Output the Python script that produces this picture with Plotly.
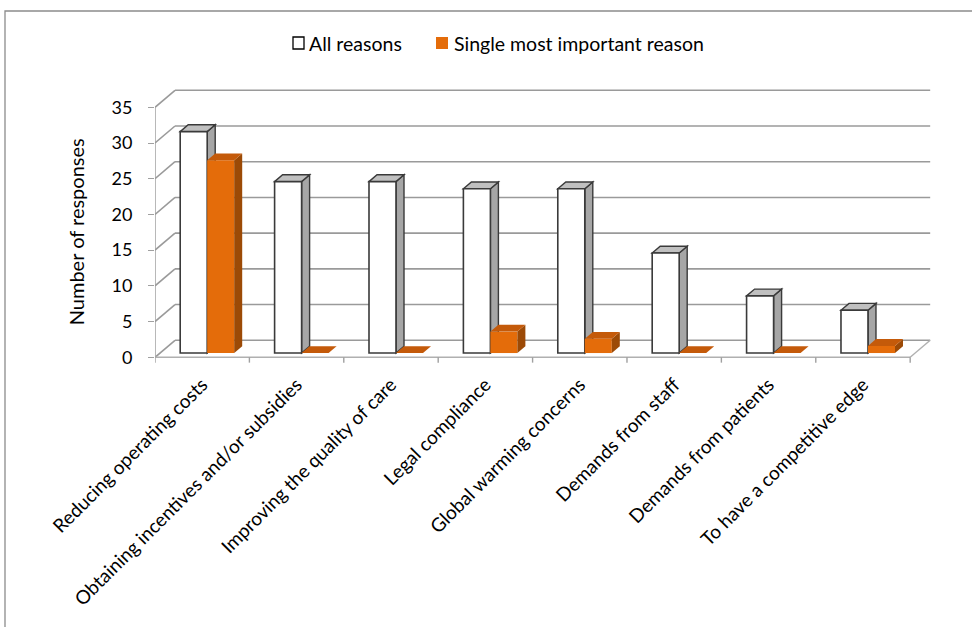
import plotly.graph_objects as go

categories = [
    "Reducing operating costs",
    "Obtaining incentives and/or subsidies",
    "Improving the quality of care",
    "Legal compliance",
    "Global warming concerns",
    "Demands from staff",
    "Demands from patients",
    "To have a competitive edge",
]
all_reasons = [31, 24, 24, 23, 23, 14, 8, 6]
single_reason = [27, 0, 0, 3, 2, 0, 0, 1]
y_ticks = [0, 5, 10, 15, 20, 25, 30, 35]
series_names = ["All reasons", "Single most important reason"]

# 3D-look geometry (in axis units)
DX, DY = 0.212, 2.38        # wall depth
F0, FD = 0.25, 0.40         # bar front depth fraction, bar depth fraction
BW = 0.286                  # bar width
bx, by = DX * F0, DY * F0   # offset of bar front plane
sdx, sdy = DX * FD, DY * FD # bar depth

FONT = "Lato, Carlito, Calibri, sans-serif"
GRID = "#9a9a9a"
EDGE = "#3a3a3a"
ORANGE = "#E46C0A"
ORANGE_SIDE = "#9C4A06"
ORANGE_TOP = "#C45A0A"

# plot area in pixels: left 155, right 935, top 85, bottom 363
L, R, T, B = 155, 935, 85, 363
def px(x):
    return (x - L) / (R - L)
def py(y):
    return (B - y) / (B - T)

n = len(categories)
xc = [i + 0.5 + bx for i in range(n)]

fig = go.Figure()
fig.add_trace(go.Bar(
    x=xc, y=all_reasons, base=[by] * n, width=BW, offset=-BW,
    name=series_names[0], marker=dict(color="white", line=dict(color=EDGE, width=1.6)),
    hoverinfo="skip", showlegend=False,
))
fig.add_trace(go.Bar(
    x=xc, y=single_reason, base=[by] * n, width=BW, offset=0,
    name=series_names[1], marker=dict(color=ORANGE, line=dict(width=0)),
    hoverinfo="skip", showlegend=False,
))

shapes = []
def line(x0, y0, x1, y1, color=GRID, w=1.6, layer="below"):
    shapes.append(dict(type="line", xref="x", yref="y", x0=x0, y0=y0, x1=x1, y1=y1,
                       line=dict(color=color, width=w), layer=layer))

def poly(pts, fill, lc=None, lw=0, layer="below"):
    p = "M " + " L ".join(f"{x},{y}" for x, y in pts) + " Z"
    shapes.append(dict(type="path", xref="x", yref="y", path=p, fillcolor=fill,
                       line=dict(color=lc or fill, width=lw), layer=layer))

# back wall gridlines and left wall diagonals
for v in y_ticks:
    line(DX, v + DY, n + DX, v + DY)
    line(0, v, DX, v + DY)
# front axis, floor
line(0, 0, 0, y_ticks[-1], w=1.4)
line(0, 0, n, 0, color="#b0b0b0", w=1.4)
line(n, 0, n + DX, DY, color="#b0b0b0", w=1.4)
for k in range(n + 1):
    line(k, 0, k, -0.75, color="#a0a0a0", w=1.4)

# white bars: side + top
for i, v in enumerate(all_reasons):
    xl, xr = xc[i] - BW, xc[i]
    b, t = by, by + v
    poly([(xr, b), (xr + sdx, b + sdy), (xr + sdx, t + sdy), (xr, t)], "#a6a6a6", EDGE, 1.4)
    poly([(xl, t), (xl + sdx, t + sdy), (xr + sdx, t + sdy), (xr, t)], "#c0c0c0", EDGE, 1.4)

# orange bars: side + top
for i, v in enumerate(single_reason):
    xl, xr = xc[i], xc[i] + BW
    b, t = by, by + v
    if v > 0:
        poly([(xr, b), (xr + sdx, b + sdy), (xr + sdx, t + sdy), (xr, t)], ORANGE_SIDE, layer="above")
    poly([(xl, t), (xl + sdx, t + sdy), (xr + sdx, t + sdy), (xr, t)], ORANGE_TOP, layer="above")

# outer frame
shapes.append(dict(type="rect", xref="paper", yref="paper", x0=px(5), y0=py(640), x1=px(985), y1=py(11),
                   line=dict(color="#8c8c8c", width=1.3), fillcolor="rgba(0,0,0,0)", layer="below"))

# manual legend
shapes.append(dict(type="rect", xref="paper", yref="paper", x0=px(293), x1=px(304), y0=py(49), y1=py(37),
                   line=dict(color="black", width=1.3), fillcolor="white"))
shapes.append(dict(type="rect", xref="paper", yref="paper", x0=px(436), x1=px(448), y0=py(49), y1=py(37),
                   line=dict(width=0), fillcolor=ORANGE))

annotations = [
    dict(text=series_names[0], xref="paper", yref="paper", x=px(307), y=py(43), xanchor="left",
         yanchor="middle", showarrow=False, font=dict(size=19.5)),
    dict(text=series_names[1], xref="paper", yref="paper", x=px(452), y=py(43), xanchor="left",
         yanchor="middle", showarrow=False, font=dict(size=19.5)),
    dict(text="Number of responses", xref="paper", yref="y", x=px(76), y=17.5,
         textangle=-90, showarrow=False, font=dict(size=20), xanchor="center", yanchor="middle"),
]

fig.update_layout(
    width=972, height=627,
    margin=dict(l=L, r=972 - R, t=T, b=627 - B),
    paper_bgcolor="white", plot_bgcolor="rgba(0,0,0,0)",
    font=dict(family=FONT, size=19, color="black"),
    barmode="overlay",
    showlegend=False,
    shapes=shapes,
    annotations=annotations,
)
fig.update_xaxes(range=[0, 8.263], tickvals=[i + 0.5 for i in range(n)], ticktext=categories,
                 tickangle=-45, showgrid=False, zeroline=False, showline=False, ticks="",
                 ticklabelstandoff=6, fixedrange=True)
fig.update_yaxes(range=[-0.8, 38.12], tickvals=y_ticks, showgrid=False, zeroline=False, showline=False,
                 ticks="outside", ticklen=6, tickcolor="#a0a0a0", tickwidth=1.4, ticklabelstandoff=12,
                 tickfont=dict(size=18), fixedrange=True)

fig.write_html("out.html")
